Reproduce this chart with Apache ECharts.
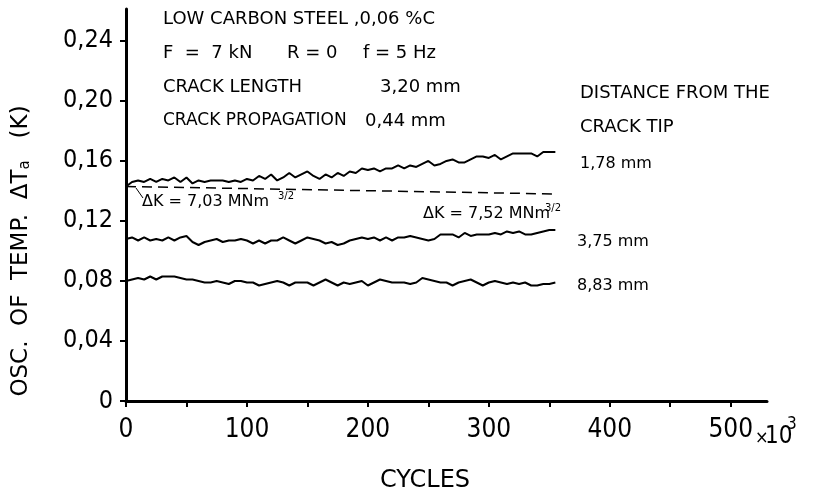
<!DOCTYPE html>
<html><head><meta charset="utf-8">
<script src="https://cdn.jsdelivr.net/npm/echarts@6/dist/echarts.min.js"></script>
<style>html,body{margin:0;padding:0;background:#fff}#c{width:816px;height:497px}</style>
</head><body><div id="c"></div>
<script>
const cycles = [0,5,10,15,20,25,30,35,40,45,50,55,60,65,70,75,80,85,90,95,100,105,110,115,120,125,130,135,140,145,150,155,160,165,170,175,180,185,190,195,200,205,210,215,220,225,230,235,240,245,250,255,260,265,270,275,280,285,290,295,300,305,310,315,320,325,330,335,340,345,350,355];
const d178 = [0.143,0.146,0.147,0.146,0.148,0.146,0.148,0.147,0.149,0.146,0.149,0.145,0.147,0.146,0.147,0.147,0.147,0.146,0.147,0.146,0.148,0.147,0.150,0.148,0.151,0.147,0.149,0.152,0.149,0.151,0.153,0.150,0.148,0.151,0.149,0.152,0.150,0.153,0.152,0.155,0.154,0.155,0.153,0.155,0.155,0.157,0.155,0.157,0.156,0.158,0.160,0.157,0.158,0.160,0.161,0.159,0.159,0.161,0.163,0.163,0.162,0.164,0.161,0.163,0.165,0.165,0.165,0.165,0.163,0.166,0.166,0.166];
const d375 = [0.108,0.109,0.107,0.109,0.107,0.108,0.107,0.109,0.107,0.109,0.110,0.106,0.104,0.106,0.107,0.108,0.106,0.107,0.107,0.108,0.107,0.105,0.107,0.105,0.107,0.107,0.109,0.107,0.105,0.107,0.109,0.108,0.107,0.105,0.106,0.104,0.105,0.107,0.108,0.109,0.108,0.109,0.107,0.109,0.107,0.109,0.109,0.110,0.109,0.108,0.107,0.108,0.111,0.111,0.111,0.109,0.112,0.110,0.111,0.111,0.111,0.112,0.111,0.113,0.112,0.113,0.111,0.111,0.112,0.113,0.114,0.114];
const d883 = [0.080,0.081,0.082,0.081,0.083,0.081,0.083,0.083,0.083,0.082,0.081,0.081,0.080,0.079,0.079,0.080,0.079,0.078,0.080,0.080,0.079,0.079,0.077,0.078,0.079,0.080,0.079,0.077,0.079,0.079,0.079,0.077,0.079,0.081,0.079,0.077,0.079,0.078,0.079,0.080,0.077,0.079,0.081,0.080,0.079,0.079,0.079,0.078,0.079,0.082,0.081,0.080,0.079,0.079,0.077,0.079,0.080,0.081,0.079,0.077,0.079,0.080,0.079,0.078,0.079,0.078,0.079,0.077,0.077,0.078,0.078,0.079];
const dashCycles = [0,355];
const dashValues = [0.143,0.138];
const yTicks = [0,0.04,0.08,0.12,0.16,0.20,0.24];
const xLabels = [0,100,200,300,400,500];
const xTicks = [0,50,100,150,200,250,300,350,400,450,500];

const pairs = (xs, ys) => xs.map((x,i)=>[x,ys[i]]);
const F = '"Liberation Sans Narrow","DejaVu Sans Condensed",sans-serif';
const T = '"DejaVu Sans",sans-serif';
const txt = (text,x,y,size,extra) => ({type:'text',x:x,y:y,style:Object.assign({text:text,font:size+'px '+T,fill:'#000',textVerticalAlign:'middle'},extra||{})});

const chart = echarts.init(document.getElementById('c'));
const lineStyle = {color:'#000',width:2};
chart.setOption({
  animation:false,
  grid:{left:126,right:49,top:9,bottom:96},
  xAxis:{type:'value',min:0,max:530,
    axisLine:{lineStyle:{color:'#000',width:3}},
    axisTick:{customValues:xTicks,length:6,lineStyle:{color:'#000',width:2}},
    axisLabel:{customValues:xLabels,margin:16,color:'#000',fontSize:26,fontFamily:F},
    splitLine:{show:false}},
  yAxis:{type:'value',min:0,max:0.2613,
    axisLine:{show:true,lineStyle:{color:'#000',width:3}},
    axisTick:{show:true,customValues:yTicks,length:6,lineStyle:{color:'#000',width:2}},
    axisLabel:{customValues:yTicks,margin:13,color:'#000',fontSize:25,fontFamily:F,
      formatter:v=>v===0?'0':v.toFixed(2).replace('.',',')},
    splitLine:{show:false}},
  series:[
    {type:'line',data:pairs(cycles,d178),showSymbol:false,lineStyle:lineStyle},
    {type:'line',data:pairs(dashCycles,dashValues),showSymbol:false,lineStyle:{color:'#000',width:1.5,type:[10,6]}},
    {type:'line',data:pairs(cycles,d375),showSymbol:false,lineStyle:lineStyle},
    {type:'line',data:pairs(cycles,d883),showSymbol:false,lineStyle:lineStyle}
  ],
  graphic:[
    txt('LOW CARBON STEEL ,0,06 %C',163,19,18),
    txt('F  =  7 kN',163,53,18),
    txt('R = 0',287,53,18),
    txt('f = 5 Hz',363,53,18),
    txt('CRACK LENGTH',163,87,18),
    txt('3,20 mm',380,87,18),
    txt('CRACK PROPAGATION',163,121,17),
    txt('0,44 mm',365,121,18),
    txt('DISTANCE FROM THE',580,93,18),
    txt('CRACK TIP',580,127,18),
    txt('1,78 mm',580,164,16),
    txt('3,75 mm',577,242,16),
    txt('8,83 mm',577,286,16),
    txt('ΔK = 7,03 MNm',142,202,16),
    txt('3/2',278,196,10),
    txt('ΔK = 7,52 MNm',423,214,16),
    txt('3/2',545,208,10),
    {type:'line',shape:{x1:136,y1:188,x2:143,y2:198},style:{stroke:'#000',lineWidth:1}},
    {type:'text',x:755,y:438,style:{text:'×',font:'18px '+F,fill:'#000',textVerticalAlign:'middle'}},
    {type:'text',x:765,y:437,style:{text:'10',font:'24px '+F,fill:'#000',textVerticalAlign:'middle'}},
    {type:'text',x:787,y:425,style:{text:'3',font:'17px '+F,fill:'#000',textVerticalAlign:'middle'}},
    {type:'text',x:425,y:481,style:{text:'CYCLES',font:'24px '+T,fill:'#000',textAlign:'center',textVerticalAlign:'middle'}},
    {type:'text',x:21,y:251,rotation:Math.PI/2,style:{
      text:'OSC.  OF  TEMP.  ΔT{s|a}   (K)',font:'23px '+T,fill:'#000',textAlign:'center',textVerticalAlign:'middle',
      rich:{s:{fontSize:15,fontFamily:T,verticalAlign:'bottom',padding:[8,0,0,0]}}}}
  ]
});
</script></body></html>
